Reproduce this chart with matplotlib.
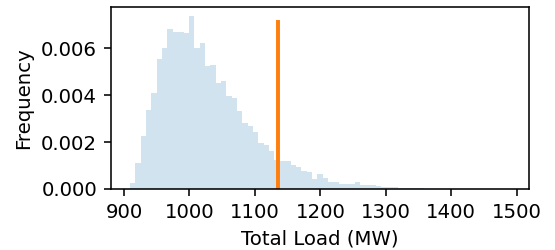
import matplotlib
matplotlib.use("Agg")
import matplotlib.pyplot as plt
import numpy as np

# histogram of total load (density per bin)
load_min = 909.1
load_max = 1489.8
n_bins = 71
freq = [
    0.00026, 0.00110, 0.00226, 0.00337, 0.00408, 0.00554, 0.00603, 0.00682,
    0.00668, 0.00671, 0.00664, 0.00738, 0.00603, 0.00622, 0.00526, 0.00530,
    0.00453, 0.00462, 0.00397, 0.00390, 0.00333, 0.00280, 0.00270, 0.00242,
    0.00195, 0.00188, 0.00163, 0.00123, 0.00120, 0.00120, 0.00104, 0.00095,
    0.00078, 0.00072, 0.00043, 0.00062, 0.00045, 0.00031, 0.00031, 0.00020,
    0.00020, 0.00020, 0.00031, 0.00016, 0.00016, 0.00015, 0.00012, 0.00008,
    0.00008, 0.00008, 0.00006, 0.00005, 0.00006, 0.00005, 0.00004, 0.0,
    0.0, 0.0, 0.0, 0.0, 0.0, 0.0, 0.0, 0.0,
    0.0, 0.0, 0.0, 0.0, 0.0, 0.0, 0.00001,
]

# orange marker line
marker_load = 1134.8
marker_top = 0.00712

edges = np.linspace(load_min, load_max, n_bins + 1)
centers = (edges[:-1] + edges[1:]) / 2

# original looks like a small figure saved at a higher dpi
dpi = 142
fig = plt.figure(figsize=(555 / dpi, 250 / dpi), dpi=dpi)
ax = fig.add_axes([0.200, 0.244, 0.753, 0.727])

ax.hist(centers, bins=edges, weights=freq, color="C0", alpha=0.2)
ax.plot([marker_load, marker_load], [0, marker_top], color="C1", lw=2)

ax.set_xlabel("Total Load (MW)")
ax.set_ylabel("Frequency")
ax.set_xticks([900, 1000, 1100, 1200, 1300, 1400, 1500])
ax.set_yticks([0.000, 0.002, 0.004, 0.006])
ax.yaxis.set_major_formatter(matplotlib.ticker.FormatStrFormatter("%.3f"))

fig.savefig("out.png", dpi=dpi)
